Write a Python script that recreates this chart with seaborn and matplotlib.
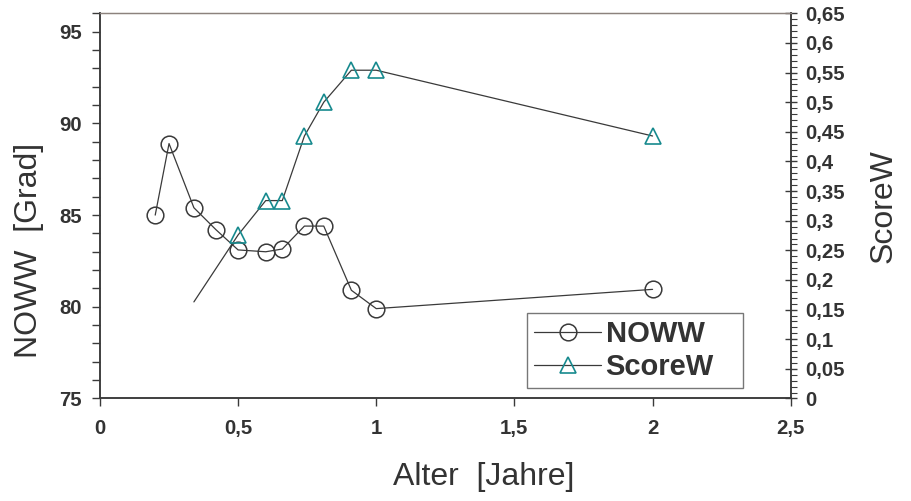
import numpy as np
import pandas as pd
import seaborn as sns
import matplotlib.pyplot as plt
from matplotlib.ticker import MultipleLocator, FuncFormatter

# Alter in Jahren
alter_noww = [0.2, 0.25, 0.34, 0.42, 0.5, 0.6, 0.66, 0.74, 0.81, 0.91, 1.0, 2.0]
noww = [85.0, 88.9, 85.4, 84.2, 83.1, 83.0, 83.15, 84.4, 84.4, 80.9, 79.9, 80.95]

alter_score = [0.34, 0.5, 0.6, 0.66, 0.74, 0.81, 0.91, 1.0, 2.0]
score_w = [0.163, 0.276, 0.334, 0.334, 0.443, 0.500, 0.554, 0.554, 0.443]

x_ticks = [0, 0.5, 1, 1.5, 2, 2.5]

sns.set_style("ticks")
plt.rcParams['font.family'] = ['Liberation Sans', 'DejaVu Sans']

dark = '#3a3a3a'
teal = '#178a8e'

fig = plt.figure(figsize=(9.12, 5.01), dpi=100)
ax = fig.add_axes([0.1096, 0.2046, 0.7574, 0.7688])
ax2 = ax.twinx()

df_n = pd.DataFrame({'Alter': alter_noww, 'NOWW': noww})
df_s = pd.DataFrame({'Alter': alter_score, 'ScoreW': score_w})

sns.lineplot(data=df_n, x='Alter', y='NOWW', ax=ax, color=dark, lw=0.9,
             marker='o', markersize=12, markerfacecolor='none',
             markeredgecolor=dark, markeredgewidth=1.1, label='NOWW',
             sort=False, legend=False)
sns.lineplot(data=df_s, x='Alter', y='ScoreW', ax=ax2, color=dark, lw=0.9,
             marker='^', markersize=11.5, markerfacecolor='none',
             markeredgecolor=teal, markeredgewidth=1.2, label='ScoreW',
             markevery=list(range(1, len(score_w))), sort=False, legend=False)

comma = FuncFormatter(lambda v, p: f'{v:g}'.replace('.', ','))

ax.set_xlim(0, 2.5)
ax.set_xticks(x_ticks)
ax.xaxis.set_major_formatter(comma)
ax.set_ylim(75, 96)
ax.yaxis.set_major_locator(MultipleLocator(5))
ax.yaxis.set_minor_locator(MultipleLocator(1))
ax.set_yticks([75, 80, 85, 90, 95])

ax2.set_ylim(0, 0.65)
ax2.yaxis.set_major_locator(MultipleLocator(0.05))
ax2.yaxis.set_minor_locator(MultipleLocator(0.01))
ax2.yaxis.set_major_formatter(comma)

for a in (ax, ax2):
    for s in a.spines.values():
        s.set_color(dark)
        s.set_linewidth(1.1)
    a.spines['top'].set_color('#8c827d')
    a.spines['top'].set_linewidth(0.9)

ax.tick_params(axis='x', direction='out', length=6, width=1, color=dark,
               labelsize=14.7, labelcolor='#333333', pad=9)
ax.tick_params(axis='y', which='both', direction='out', length=6, width=1,
               color=dark, labelsize=14.7, labelcolor='#333333', pad=7)
ax2.tick_params(axis='y', which='major', direction='inout', length=9, width=1,
                color=dark, labelsize=14.7, labelcolor='#333333', pad=6)
ax2.tick_params(axis='y', which='minor', direction='out', length=4, width=0.8,
                color=dark)
for lab in ax.get_xticklabels() + ax.get_yticklabels() + ax2.get_yticklabels():
    lab.set_fontweight('bold')

ax.set_xlabel('Alter  [Jahre]', fontsize=23, color='#333333')
ax.xaxis.set_label_coords(0.555, -0.165)
ax.set_ylabel('NOWW  [Grad]', fontsize=23, color='#333333')
ax.yaxis.set_label_coords(-0.081, 0.385)
ax2.set_ylabel('ScoreW', fontsize=23, color='#333333')
ax2.yaxis.set_label_coords(1.113, 0.5)

h1, l1 = ax.get_legend_handles_labels()
h2, l2 = ax2.get_legend_handles_labels()
leg = ax2.legend(h1 + h2, l1 + l2, loc='lower left',
                 bbox_to_anchor=(0.618, 0.027, 0.313, 0.192), mode='expand',
                 borderaxespad=0, fancybox=False, framealpha=1,
                 edgecolor='#777777', handlelength=2.3, handletextpad=0.15,
                 labelspacing=0.15, borderpad=0.25,
                 prop={'weight': 'bold', 'size': 21})
leg.get_frame().set_linewidth(1.0)
for t in leg.get_texts():
    t.set_color('#333333')

plt.savefig('out.png', dpi=100)
